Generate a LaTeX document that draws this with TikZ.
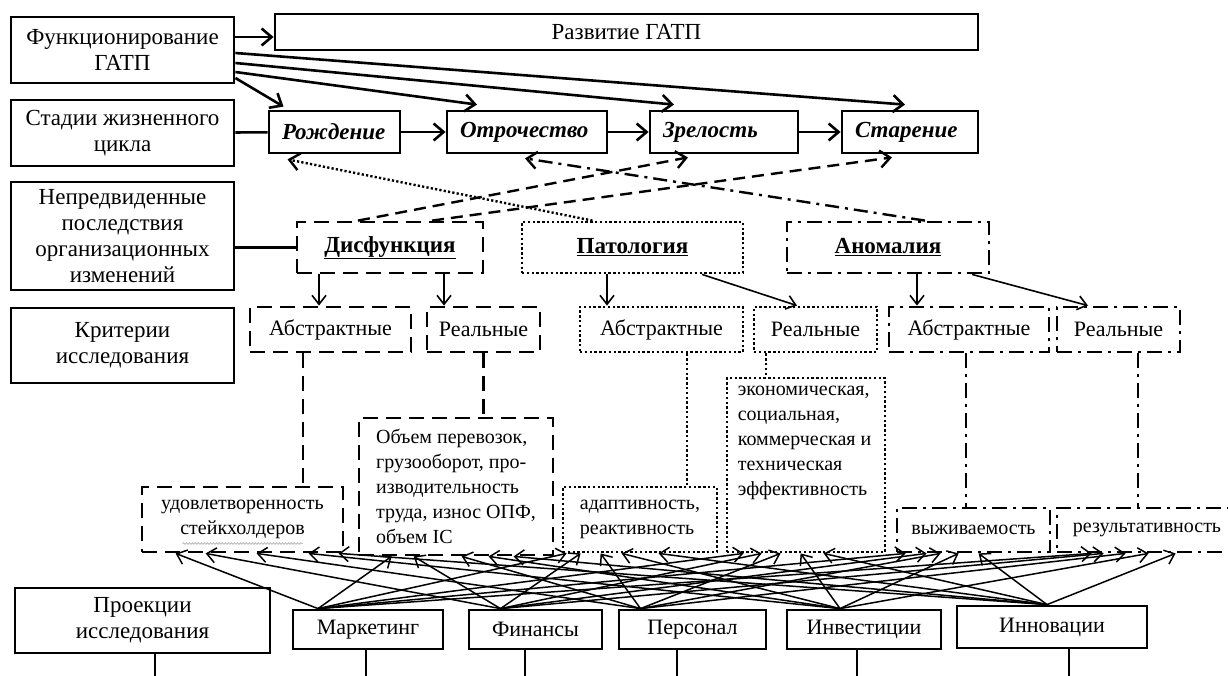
\documentclass[tikz,border=0pt]{standalone}
\usepackage{fontspec}
\setmainfont{Liberation Serif}
\usetikzlibrary{arrows.meta, decorations.pathmorphing}

\begin{document}
\begin{tikzpicture}[x=1pt, y=-1pt,
  box/.style={draw, line width=2.8pt, inner sep=3pt, align=center, font=\fontsize{23}{26}\selectfont},
  dashbox/.style={box, dash pattern=on 15pt off 8pt},
  dotbox/.style={box, dash pattern=on 2.4pt off 2.4pt},
  dotdashbox/.style={box, dash pattern=on 15pt off 6pt on 3pt off 6pt},
  stage/.style={box, minimum height=42pt, inner xsep=13pt, align=left, font=\fontsize{23}{26}\selectfont\bfseries\itshape},
  kind/.style={minimum height=45pt, font=\fontsize{22}{26}\selectfont},
  small/.style={font=\fontsize{20}{25}\selectfont},
  projbox/.style={box, minimum height=39pt, font=\fontsize{22}{26}\selectfont},
  arr/.style={-{Straight Barb[length=10pt, width=17pt]}, line width=2.6pt},
  thinarr/.style={-{Straight Barb[length=9pt, width=14pt]}, line width=1.6pt},
  mesh/.style={-{Straight Barb[length=9pt, width=15pt]}, line width=1.5pt},
  dasharr/.style={arr, line width=2.4pt, dash pattern=on 12pt off 7pt},
  dotarr/.style={arr, line width=2.4pt, dash pattern=on 2.2pt off 2.2pt},
  dotdasharr/.style={arr, line width=2.4pt, dash pattern=on 14pt off 6pt on 3pt off 6pt},
  dashline/.style={line width=2.8pt, dash pattern=on 15pt off 8pt},
  dotline/.style={line width=2.8pt, dash pattern=on 2.4pt off 2.4pt},
  dotdashline/.style={line width=2.8pt, dash pattern=on 15pt off 6pt on 3pt off 6pt}]

% Frame
\clip (0,0) rectangle (1228,675);
\fill[white] (0,0) rectangle (1228,675);

% Left column
\node[box, minimum width=223pt, minimum height=66pt] (func) at (122.5,50) {Функционирование\\ГАТП};
\node[box, minimum width=223pt, minimum height=66pt] (stages) at (122.5,133) {Стадии жизненного\\цикла};
\node[box, minimum width=223pt, minimum height=108pt] (unf) at (122.5,236) {Непредвиденные\\последствия\\организационных\\изменений};
\node[box, minimum width=223pt, minimum height=75pt] (criteria) at (122.5,345.5) {Критерии\\исследования};
\node[box, minimum width=255pt, minimum height=65pt] (proj) at (142.5,620.5) {Проекции\\исследования};

% Development and life cycle stages
\node[box, minimum width=703pt, minimum height=36pt] (razv) at (626.5,32) {Развитие ГАТП};
\node[stage, text width=105pt] (rozh) at (334.5,132) {Рождение};
\node[stage, text width=134pt] (otr) at (527,132) {Отрочество};
\node[stage, text width=122pt] (zrel) at (724,132) {Зрелость};
\node[stage, text width=110pt] (star) at (910,132) {Старение};

% Unforeseen consequences
\node[dashbox, minimum width=186pt, minimum height=51pt] (disf) at (390,247.5) {\underline{\textbf{Дисфункция}}};
\node[dotbox, minimum width=221pt, minimum height=51pt] (pat) at (632.5,247.5) {\underline{\textbf{Патология}}};
\node[dotdashbox, minimum width=202pt, minimum height=51pt] (anom) at (888,247.5) {\underline{\textbf{Аномалия}}};

% Criteria
\node[dashbox, kind, minimum width=161pt] (abs1) at (330.5,329.5) {Абстрактные};
\node[dashbox, kind, minimum width=113pt] (real1) at (483.5,329.5) {Реальные};
\node[dotbox, kind, minimum width=163pt] (abs2) at (661.5,329.5) {Абстрактные};
\node[dotbox, kind, minimum width=123pt] (real2) at (815.5,329.5) {Реальные};
\node[dotdashbox, kind, minimum width=160pt] (abs3) at (969,329.5) {Абстрактные};
\node[dotdashbox, kind, minimum width=123pt] (real3) at (1118.5,329.5) {Реальные};

% Indicators
\node[dashbox, small, minimum width=201pt, minimum height=65pt] (sat) at (242.5,519.5) {удовлетворенность\\стейкхолдеров};
\node[dashbox, small, align=left, minimum width=194pt, minimum height=137pt] (vol) at (456,486.5) {Объем перевозок,\\грузооборот, про-\\изводительность\\труда, износ ОПФ,\\объем IC};
\node[dotbox, small, align=left, minimum width=154pt, minimum height=65pt] (adapt) at (640,519.5) {адаптивность,\\реактивность};
\node[dotbox, minimum width=158pt, minimum height=174pt,
  label={[small, align=left, anchor=north west, inner sep=0pt, xshift=12pt, yshift=-9pt]north west:{экономическая,\\социальная,\\коммерческая и\\техническая\\эффективность}}] (econ) at (806,465) {};
\node[dotdashbox, small, minimum width=153pt, minimum height=44pt] (surv) at (973.5,530) {выживаемость};
\node[dotdashbox, small, minimum width=180pt, minimum height=44pt] (res) at (1147,530) {результативность};
\draw[gray!55, line width=0.8pt, decorate, decoration={snake, amplitude=0.8pt, segment length=3pt}]
  ([xshift=-60pt, yshift=-24pt]sat.center) -- ([xshift=60pt, yshift=-24pt]sat.center);

% Projections
\node[projbox, minimum width=150pt] (mark) at (368,629.5) {Маркетинг};
\node[projbox, minimum width=133pt] (fin) at (535.5,629.5) {Финансы};
\node[projbox, minimum width=147pt] (pers) at (692.5,629.5) {Персонал};
\node[projbox, minimum width=154pt] (inv) at (864,629.5) {Инвестиции};
\node[projbox, minimum width=190pt, minimum height=42pt] (innov) at (1052,627) {Инновации};

% Functioning arrows
\draw[arr] ([yshift=13pt]func.east) -- ([yshift=13pt]func.east -| razv.west);
\draw[arr] ([yshift=-3pt]func.east) -- ([xshift=-5pt, yshift=5pt]star.north);
\draw[arr] ([yshift=-13pt]func.east) -- ([xshift=-50pt, yshift=5pt]zrel.north);
\draw[arr] ([yshift=-22pt]func.east) -- ([xshift=-50pt, yshift=5pt]otr.north);
\draw[arr] ([yshift=-28pt]func.east) -- ([xshift=-51pt, yshift=3pt]rozh.north);

% Stage chain
\draw[line width=2.6pt] (stages) -- (rozh);
\draw[arr] (rozh) -- (otr);
\draw[arr] (otr) -- (zrel);
\draw[arr] (zrel) -- (star);

% Consequences to stages
\draw[line width=2.6pt] (disf.west -| unf.east) -- (disf.west);
\draw[dasharr] ([xshift=-32pt]disf.north) -- ([xshift=-36pt, yshift=-3pt]zrel.south);
\draw[dasharr] ([xshift=42pt]disf.north) -- ([xshift=-18pt, yshift=-3pt]star.south);
\draw[dotarr] ([xshift=-40pt]pat.north) -- ([xshift=-47pt, yshift=-5pt]rozh.south);
\draw[dotdasharr] ([xshift=37pt]anom.north) -- ([xshift=-2pt, yshift=-4pt]otr.south);

% Consequences to criteria
\draw[thinarr] ([xshift=-11.5pt]abs1.north |- disf.south) -- ([xshift=-11.5pt]abs1.north);
\draw[thinarr] ([xshift=-39.5pt]real1.north |- disf.south) -- ([xshift=-39.5pt]real1.north);
\draw[thinarr] ([xshift=-54.5pt]abs2.north |- pat.south) -- ([xshift=-54.5pt]abs2.north);
\draw[thinarr] ([xshift=69.5pt]pat.south) -- ([xshift=-18.5pt]real2.north);
\draw[thinarr] ([xshift=-52pt]abs3.north |- anom.south) -- ([xshift=-52pt]abs3.north);
\draw[thinarr] ([xshift=84pt]anom.south) -- ([xshift=-30.5pt]real3.north);

% Criteria to indicators
\draw[dashline] ([xshift=-27.5pt]abs1.south) -- ([xshift=-27.5pt]abs1.south |- sat.north);
\draw[dashline] (real1.south) -- (real1.south |- vol.north);
\draw[dotline] ([xshift=25.5pt]abs2.south) -- ([xshift=25.5pt]abs2.south |- adapt.north);
\draw[dotline] ([xshift=-49.5pt]real2.south) -- ([xshift=-49.5pt]real2.south |- econ.north);
\draw[dotdashline] ([xshift=-3pt]abs3.south) -- ([xshift=-3pt]abs3.south |- surv.north);
\draw[dotdashline] ([xshift=19.5pt]real3.south) -- ([xshift=19.5pt]real3.south |- res.north);

% Projections to indicators
\foreach \ind/\a/\b/\c/\d/\e in {sat/35/65/116/168/198, vol/34/56/104/131/156, adapt/5/19/39/60/97,
    econ/18/36/55/75/98, surv/10/31/45/63/83, res/36/48/70/93/120} {
  \draw[mesh] ([xshift=-50pt]mark.north) -- ([xshift=\a pt]\ind.south west);
  \draw[mesh] ([xshift=-35pt]fin.north) -- ([xshift=\b pt]\ind.south west);
  \draw[mesh] ([xshift=-52pt]pers.north) -- ([xshift=\c pt]\ind.south west);
  \draw[mesh] ([xshift=-24pt]inv.north) -- ([xshift=\d pt]\ind.south west);
  \draw[mesh] ([xshift=-5pt]innov.north) -- ([xshift=\e pt]\ind.south west);
}

% Lines below projections
\draw[line width=2.6pt] ([xshift=12.5pt]proj.south) -- ++(0,30);
\draw[line width=2.6pt] ([xshift=-2pt]mark.south) -- ++(0,30);
\draw[line width=2.6pt] ([xshift=-10.5pt]fin.south) -- ++(0,30);
\draw[line width=2.6pt] ([xshift=-15.5pt]pers.south) -- ++(0,30);
\draw[line width=2.6pt] ([xshift=-7pt]inv.south) -- ++(0,30);
\draw[line width=2.6pt] ([xshift=17pt]innov.south) -- ++(0,30);

\end{tikzpicture}
\end{document}
